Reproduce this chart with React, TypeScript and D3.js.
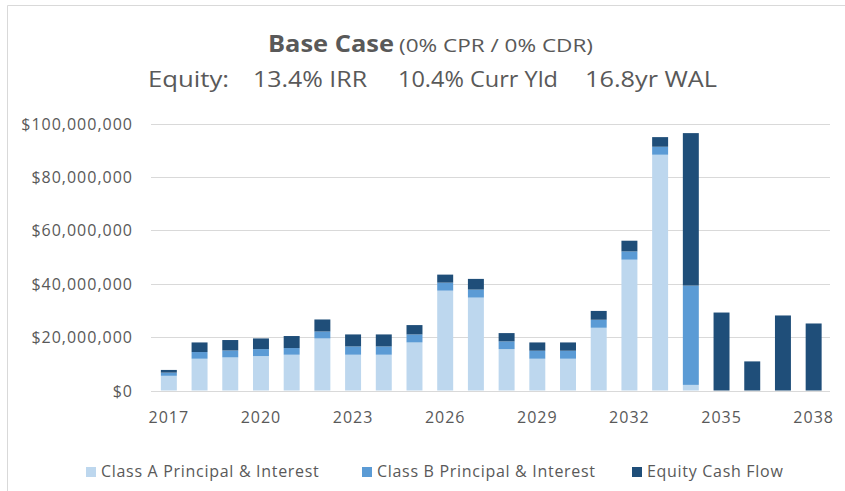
import React, { useEffect, useRef } from "react";
import * as d3 from "d3";

const years = [
  "2017", "2018", "2019", "2020", "2021", "2022", "2023", "2024", "2025", "2026", "2027",
  "2028", "2029", "2030", "2031", "2032", "2033", "2034", "2035", "2036", "2037", "2038",
];
// values in $ millions
const classA = [5.5, 11.9, 12.4, 12.9, 13.4, 19.5, 13.4, 13.4, 18.0, 37.4, 34.8, 15.5, 11.9, 11.9, 23.5, 49.0, 88.3, 2.1, 0, 0, 0, 0];
const classB = [1.2, 2.5, 2.6, 2.6, 2.5, 2.6, 3.1, 3.1, 3.0, 3.0, 3.0, 2.9, 3.0, 3.0, 3.0, 3.1, 3.0, 37.2, 0, 0, 0, 0];
const equity = [1.0, 3.6, 3.9, 4.0, 4.5, 4.5, 4.5, 4.5, 3.5, 3.0, 4.0, 3.1, 3.1, 3.1, 3.3, 4.0, 3.6, 57.1, 29.2, 10.9, 28.1, 25.1];
const yTicks = [0, 20, 40, 60, 80, 100];
const xTickLabels = ["2017", "2020", "2023", "2026", "2029", "2032", "2035", "2038"];

const seriesKeys = ["a", "b", "eq"];
const seriesNames = ["Class A Principal & Interest", "Class B Principal & Interest", "Equity Cash Flow"];
const colors = ["#bdd7ee", "#5b9bd5", "#1f4e79"];

const W = 845;
const H = 491;
const FONT = "'Open Sans', sans-serif";
const GREY = "#595959";

const App = () => {
  const ref = useRef<SVGGElement>(null);

  useEffect(() => {
    const g = d3.select(ref.current);
    g.selectAll("*").remove();

    const rows = years.map((y, i) => ({ year: y, a: classA[i], b: classB[i], eq: equity[i] }));

    const x = d3.scaleBand().domain(years).range([153.5, 829]).paddingInner(0.48).paddingOuter(0.24);
    const y = d3.scaleLinear().domain([0, 100]).range([390.5, 123.5]);

    // gridlines
    g.selectAll("line.grid")
      .data(yTicks)
      .enter()
      .append("line")
      .attr("class", "grid")
      .attr("x1", 151)
      .attr("x2", 830)
      .attr("y1", d => Math.round(y(d)) + 0.5)
      .attr("y2", d => Math.round(y(d)) + 0.5)
      .attr("stroke", "#d9d9d9")
      .attr("stroke-width", 1);

    const fmt = d3.format(",");
    g.selectAll("text.ytick")
      .data(yTicks)
      .enter()
      .append("text")
      .attr("class", "ytick")
      .attr("x", 133)
      .attr("y", d => y(d) + 6)
      .attr("text-anchor", "end")
      .style("font-family", FONT)
      .style("font-size", "16px")
      .style("letter-spacing", "1px")
      .style("fill", GREY)
      .text(d => "$" + fmt(d * 1000000));

    const stack = d3.stack<any>().keys(seriesKeys);
    const layers = stack(rows);

    g.selectAll("g.layer")
      .data(layers)
      .enter()
      .append("g")
      .attr("class", "layer")
      .attr("fill", (d, i) => colors[i])
      .selectAll("rect")
      .data(d => d)
      .enter()
      .append("rect")
      .attr("x", d => x(d.data.year) as number)
      .attr("width", x.bandwidth())
      .attr("y", d => y(d[1]))
      .attr("height", d => Math.max(0, y(d[0]) - y(d[1])));

    g.selectAll("text.xtick")
      .data(xTickLabels)
      .enter()
      .append("text")
      .attr("class", "xtick")
      .attr("x", d => (x(d) as number) + x.bandwidth() / 2)
      .attr("y", 423)
      .attr("text-anchor", "middle")
      .style("font-family", FONT)
      .style("font-size", "16px")
      .style("letter-spacing", "1px")
      .style("fill", GREY)
      .text(d => d);

    // legend
    const legendX = [86, 362, 632];
    const legend = g.selectAll("g.legend")
      .data(seriesNames)
      .enter()
      .append("g")
      .attr("class", "legend")
      .attr("transform", (d, i) => `translate(${legendX[i]},467)`);
    legend.append("rect").attr("width", 10).attr("height", 10).attr("fill", (d, i) => colors[i]);
    legend.append("text")
      .attr("x", 15)
      .attr("y", 10)
      .style("font-family", FONT)
      .style("font-size", "16px")
      .style("letter-spacing", "0.7px")
      .style("fill", GREY)
      .text(d => d);
  }, []);

  return (
    <svg width={W} height={H} style={{ position: "absolute", left: 0, top: 0, background: "#fff" }}>
      <line x1={7.5} x2={7.5} y1={5.5} y2={H} stroke="#d9d9d9" />
      <line x1={7.5} x2={W} y1={5.5} y2={5.5} stroke="#d9d9d9" />
      <g style={{ fontFamily: FONT, fill: GREY }}>
        <text x={268} y={52} fontSize={24} fontWeight="bold" textLength={126} lengthAdjust="spacingAndGlyphs">Base Case</text>
        <text x={399} y={52} fontSize={19} textLength={194} lengthAdjust="spacingAndGlyphs">(0% CPR / 0% CDR)</text>
        <text x={148} y={87} fontSize={22} textLength={81} lengthAdjust="spacingAndGlyphs">Equity:</text>
        <text x={253} y={87} fontSize={22} textLength={114} lengthAdjust="spacingAndGlyphs">13.4% IRR</text>
        <text x={398} y={87} fontSize={22} textLength={160} lengthAdjust="spacingAndGlyphs">10.4% Curr Yld</text>
        <text x={585} y={87} fontSize={22} textLength={132} lengthAdjust="spacingAndGlyphs">16.8yr WAL</text>
      </g>
      <g ref={ref} />
    </svg>
  );
};

export default App;
